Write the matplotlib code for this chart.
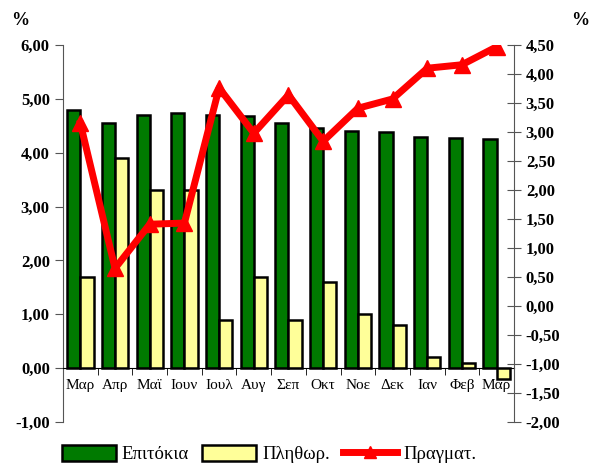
import matplotlib
matplotlib.use("agg")
import matplotlib.pyplot as plt
from matplotlib.ticker import FixedLocator
from matplotlib.lines import Line2D
from matplotlib.patches import Patch
import numpy as np

months = ["Μαρ", "Απρ", "Μαϊ", "Ιουν", "Ιουλ", "Αυγ", "Σεπ", "Οκτ", "Νοε", "Δεκ", "Ιαν", "Φεβ", "Μαρ"]
rates = [4.80, 4.55, 4.70, 4.73, 4.70, 4.68, 4.55, 4.46, 4.41, 4.38, 4.30, 4.27, 4.25]
inflation = [1.70, 3.90, 3.30, 3.30, 0.90, 1.70, 0.90, 1.60, 1.00, 0.80, 0.20, 0.10, -0.20]
real = [3.15, 0.65, 1.41, 1.43, 3.76, 2.98, 3.64, 2.84, 3.41, 3.57, 4.10, 4.16, 4.47]

plt.rcParams["font.family"] = ["Liberation Serif", "DejaVu Serif"]


def fmt(v):
    return ("%.2f" % v).replace(".", ",")


fig = plt.figure(figsize=(5.91, 4.66), dpi=100)
ax = fig.add_axes([0.1066, 0.0944, 0.7631, 0.809])
x = np.arange(len(months))
w = 0.38
ax.bar(x - w / 2, rates, w, color="#007a00", edgecolor="black", linewidth=1.8, zorder=2)
ax.bar(x + w / 2, inflation, w, color="#ffff99", edgecolor="black", linewidth=1.8, zorder=2)
ax.set_xlim(-0.5, len(months) - 0.5)
ax.set_ylim(-1, 6)
ax.set_yticks(np.arange(-1, 6.01, 1))
ax.set_yticklabels([fmt(v) for v in np.arange(-1, 6.01, 1)], fontweight="bold", fontsize=12)
ax.tick_params(axis="y", direction="out", length=6, color="#555555")

ax.spines["top"].set_visible(False)
ax.spines["right"].set_visible(False)
ax.spines["bottom"].set_position(("data", 0))
ax.spines["left"].set_color("#555555")
ax.spines["bottom"].set_color("black")
ax.spines["bottom"].set_zorder(3)
ax.set_xticks(x)
ax.set_xticklabels(months, fontsize=11)
ax.xaxis.set_minor_locator(FixedLocator(np.arange(-0.5, len(months), 1)))
ax.tick_params(axis="x", which="major", length=0, pad=8)
ax.tick_params(axis="x", which="minor", length=5, direction="out")

ax2 = ax.twinx()
ax2.plot(x, real, color="#ff0000", linewidth=5, marker="^", markersize=11, zorder=4)
ax2.set_ylim(-2, 4.5)
rt = np.arange(-2, 4.51, 0.5)
ax2.set_yticks(rt)
ax2.set_yticklabels([fmt(v) for v in rt], fontweight="bold", fontsize=12)
ax2.tick_params(axis="y", direction="inout", length=10, color="#555555")
for s in ["top", "left", "bottom"]:
    ax2.spines[s].set_visible(False)
ax2.spines["right"].set_color("#555555")

fig.text(0.034, 0.955, "%", fontweight="bold", fontsize=13, ha="center", va="center")
fig.text(0.982, 0.955, "%", fontweight="bold", fontsize=13, ha="center", va="center")

handles = [
    Patch(facecolor="#007a00", edgecolor="black", linewidth=1.8),
    Patch(facecolor="#ffff99", edgecolor="black", linewidth=1.8),
    Line2D([0], [0], color="#ff0000", linewidth=5, marker="^", markersize=9),
]
fig.legend(handles, ["Επιτόκια", "Πληθωρ.", "Πραγματ."], loc="center", ncol=3,
           bbox_to_anchor=(0.455, 0.025), frameon=False, fontsize=13.5,
           handlelength=2.9, handleheight=0.9, handletextpad=0.3, columnspacing=0.7)

plt.savefig("out.png", dpi=100)
